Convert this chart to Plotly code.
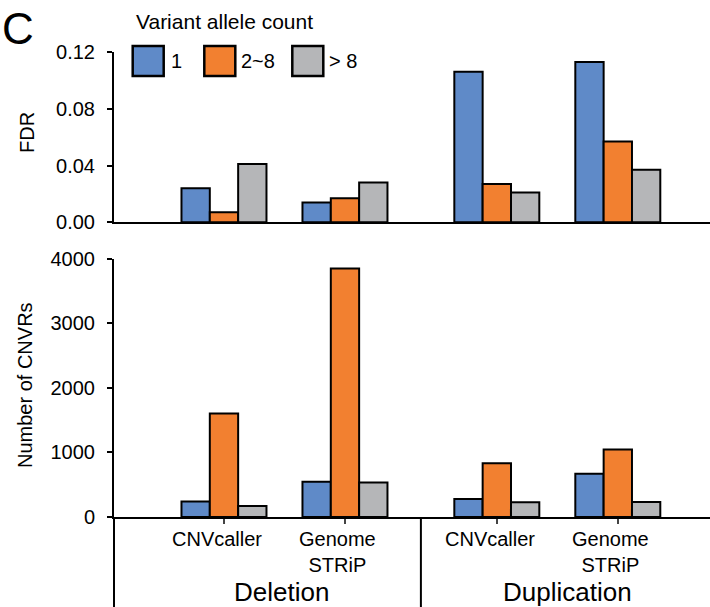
import plotly.graph_objects as go

# ---------------- data ----------------
types = ["Deletion", "Duplication"]
callers = ["CNVcaller", "Genome<br>STRiP"]
series_names = ["1", "2~8", "> 8"]
fdr_1 = [0.024, 0.014, 0.106, 0.113]
fdr_2to8 = [0.007, 0.017, 0.027, 0.057]
fdr_gt8 = [0.041, 0.028, 0.021, 0.037]
cnt_1 = [240, 545, 280, 670]
cnt_2to8 = [1600, 3845, 830, 1045]
cnt_gt8 = [170, 532, 227, 232]
fdr_ticks = [0.00, 0.04, 0.08, 0.12]
cnt_ticks = [0, 1000, 2000, 3000, 4000]

# ---------------- style ----------------
colors = ["#5F8AC8", "#F28030", "#B5B6B8"]
FONT = "Liberation Sans, Arial, sans-serif"
W, H = 710, 607
ML, MR, MT, MB = 114, 0, 52, 90
PW, PH = W - ML - MR, H - MT - MB

def px_x(p):
    return (p - ML) / PW

def px_y(p):
    return (H - MB - p) / PH

# group positions: two callers per type, extra gap between types
gap = 0.255
xpos = []
labels = []
for ti, t in enumerate(types):
    for ci, c in enumerate(callers):
        xpos.append(ti * (len(callers) + gap) + ci)
        labels.append(c)
xmin, xmax = -0.909, 4.017

fig = go.Figure()
fdr_vals = [fdr_1, fdr_2to8, fdr_gt8]
cnt_vals = [cnt_1, cnt_2to8, cnt_gt8]
for name, col, fv, cv in zip(series_names, colors, fdr_vals, cnt_vals):
    fig.add_trace(go.Bar(x=xpos, y=fv, name=name, marker=dict(color=col, line=dict(color="black", width=2)),
                         xaxis="x", yaxis="y", showlegend=False))
    fig.add_trace(go.Bar(x=xpos, y=cv, name=name, marker=dict(color=col, line=dict(color="black", width=2)),
                         xaxis="x2", yaxis="y2", showlegend=False))

axis_common = dict(showgrid=False, zeroline=False, showline=True, linecolor="black", linewidth=2,
                   tickfont=dict(family=FONT, size=20, color="black"))

top_dom = [px_y(222.3), 1.0]
bot_dom = [0.0, px_y(258.5)]

fig.update_layout(
    width=W, height=H, autosize=False,
    margin=dict(l=ML, r=MR, t=MT, b=MB, pad=0),
    paper_bgcolor="white", plot_bgcolor="white",
    barmode="group", bargap=0.2975, bargroupgap=0,
    showlegend=False,
    font=dict(family=FONT, size=20, color="black"),
    xaxis=dict(domain=[0, 1], range=[xmin, xmax], anchor="y", showticklabels=False, ticks="",
               **axis_common),
    yaxis=dict(domain=top_dom, range=[0, 0.12], anchor="x", tickvals=fdr_ticks, tickformat=".2f",
               ticks="outside", ticklen=5, tickwidth=1.5, tickcolor="black", ticklabelstandoff=8,
               **axis_common),
    xaxis2=dict(domain=[0, 1], range=[xmin, xmax], anchor="y2", tickvals=xpos, showticklabels=False,
                ticks="outside", ticklen=5, tickwidth=1.5, tickcolor="#444", **axis_common),
    yaxis2=dict(domain=bot_dom, range=[0, 4000], anchor="x2", tickvals=cnt_ticks, tickformat="d",
                ticks="outside", ticklen=5, tickwidth=1.5, tickcolor="black", ticklabelstandoff=8,
                **axis_common),
)

shapes = []
annots = []
# extended left axis line and type divider below the bottom panel
shapes.append(dict(type="line", xref="paper", yref="paper", x0=0, x1=0, y0=0, y1=px_y(H + 2),
                   line=dict(color="black", width=2)))
div_x = (xpos[len(callers) - 1] + xpos[len(callers)]) / 2
div_paper = (div_x - xmin) / (xmax - xmin)
shapes.append(dict(type="line", xref="paper", yref="paper", x0=div_paper, x1=div_paper, y0=0,
                   y1=px_y(H + 2), line=dict(color="black", width=2)))

# sub-category labels
for xp, lab in zip(xpos, labels):
    annots.append(dict(x=xp, y=px_y(526), xref="x2", yref="paper", text=lab, showarrow=False,
                       xanchor="center", yanchor="top", xshift=-7,
                       font=dict(family=FONT, size=20, color="black")))
# type labels
type_shift = [-3, 10]
for ti, t in enumerate(types):
    cx = sum(xpos[ti * len(callers):(ti + 1) * len(callers)]) / len(callers)
    annots.append(dict(x=cx, y=px_y(592), xref="x2", yref="paper", text=t, showarrow=False,
                       xanchor="center", yanchor="middle", xshift=type_shift[ti],
                       font=dict(family=FONT, size=26, color="black")))

# axis titles
annots.append(dict(x=px_x(27), y=px_y(133), xref="paper", yref="paper", text="FDR", textangle=-90,
                   showarrow=False, xanchor="center", yanchor="middle",
                   font=dict(family=FONT, size=20, color="black")))
annots.append(dict(x=px_x(25), y=px_y(385), xref="paper", yref="paper", text="Number of CNVRs",
                   textangle=-90, showarrow=False, xanchor="center", yanchor="middle",
                   font=dict(family=FONT, size=20, color="black")))
# panel letter
annots.append(dict(x=px_x(0), y=px_y(29), xref="paper", yref="paper", text="C", showarrow=False,
                   xanchor="left", yanchor="middle", font=dict(family=FONT, size=44, color="black")))

# legend (drawn manually: title, large square swatches)
annots.append(dict(x=px_x(134), y=px_y(21), xref="paper", yref="paper", text="Variant allele count",
                   showarrow=False, xanchor="left", yanchor="middle",
                   font=dict(family=FONT, size=21, color="black")))
box_left = [132.7, 204.3, 292.3]
text_left = [169, 239, 327]
for name, col, bx, tx in zip(series_names, colors, box_left, text_left):
    shapes.append(dict(type="rect", xref="paper", yref="paper", x0=px_x(bx), x1=px_x(bx + 31),
                       y0=px_y(76), y1=px_y(46), fillcolor=col, line=dict(color="black", width=2.5)))
    annots.append(dict(x=px_x(tx), y=px_y(61), xref="paper", yref="paper", text=name, showarrow=False,
                       xanchor="left", yanchor="middle", font=dict(family=FONT, size=20, color="black")))

fig.update_layout(shapes=shapes, annotations=annots)
fig.write_html("out.html", config={"displayModeBar": False},
               post_script="document.body.style.margin='0';document.body.style.overflow='hidden';")
